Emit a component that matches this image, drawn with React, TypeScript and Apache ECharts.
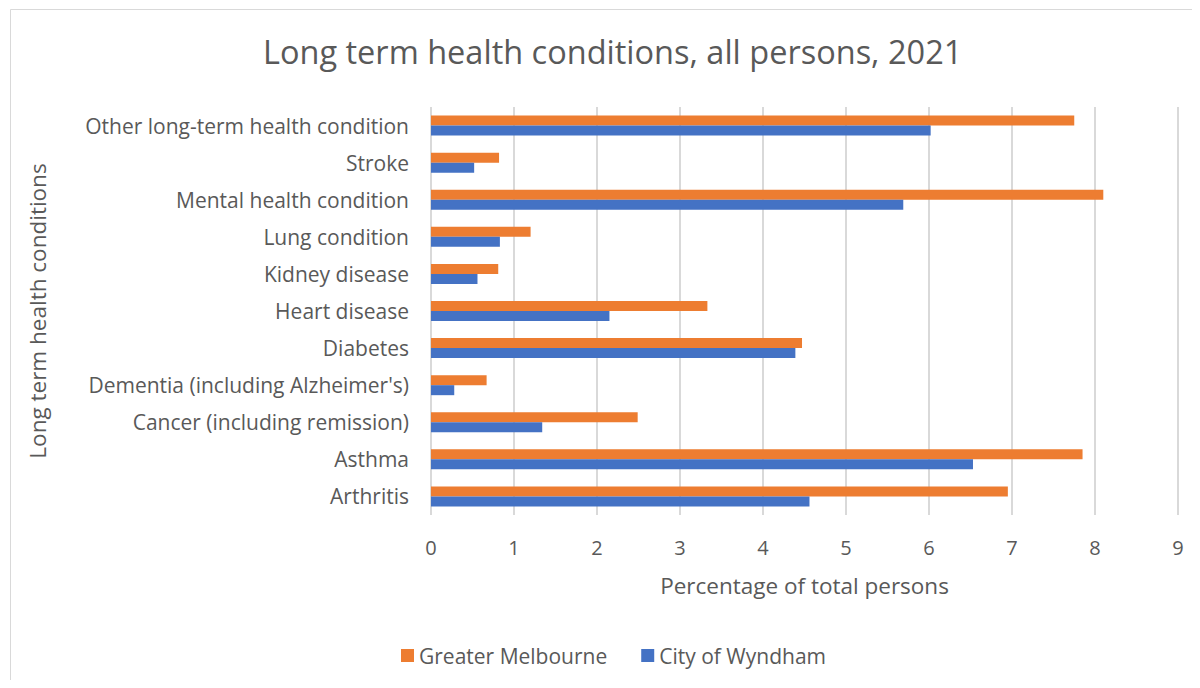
import React, { useEffect, useRef } from "react";
import * as echarts from "echarts";

const categories = [
  "Arthritis",
  "Asthma",
  "Cancer (including remission)",
  "Dementia (including Alzheimer's)",
  "Diabetes",
  "Heart disease",
  "Kidney disease",
  "Lung condition",
  "Mental health condition",
  "Stroke",
  "Other long-term health condition",
];
const greaterMelbourne = [6.95, 7.85, 2.49, 0.67, 4.47, 3.33, 0.81, 1.2, 8.1, 0.82, 7.75];
const cityOfWyndham = [4.56, 6.53, 1.34, 0.28, 4.39, 2.15, 0.56, 0.83, 5.69, 0.52, 6.02];
const xTicks = { min: 0, max: 9, interval: 1 };

const FONT = "Open Sans";
const TXT = "#595959";

export default function App() {
  const ref = useRef<HTMLDivElement>(null);
  useEffect(() => {
    if (!ref.current) return;
    const chart = echarts.init(ref.current, undefined, { renderer: "svg" });
    chart.setOption({
      animation: false,
      backgroundColor: "#ffffff",
      textStyle: { fontFamily: FONT, color: TXT },
      title: {
        text: "Long term health conditions, all persons, 2021",
        left: 263,
        top: 35,
        padding: 0,
        textStyle: { fontFamily: FONT, fontSize: 32.5, fontWeight: "normal", color: TXT },
      },
      graphic: [
        {
          type: "rect",
          shape: { x: 10.5, y: 9.5, width: 1200, height: 700 },
          style: { fill: "none", stroke: "#d9d9d9", lineWidth: 1 },
          silent: true,
        },
      ],
      legend: {
        data: ["Greater Melbourne", "City of Wyndham"],
        bottom: 17,
        left: 396,
        itemWidth: 13,
        itemHeight: 13,
        itemGap: 34,
        icon: "rect",
        textStyle: { fontFamily: FONT, fontSize: 21, color: TXT },
      },
      grid: { left: 431, right: 22, top: 107, bottom: 173, containLabel: false },
      xAxis: {
        type: "value",
        min: xTicks.min,
        max: xTicks.max,
        interval: xTicks.interval,
        name: "Percentage of total persons",
        nameLocation: "middle",
        nameGap: 59,
        nameTextStyle: { fontFamily: FONT, fontSize: 22.5, color: TXT },
        axisLine: { show: false },
        axisTick: { show: false },
        axisLabel: { fontFamily: FONT, fontSize: 20, color: TXT, margin: 22 },
        splitLine: { show: true, lineStyle: { color: "#d9d9d9", width: 2 } },
      },
      yAxis: {
        type: "category",
        data: categories,
        name: "Long term health conditions",
        nameLocation: "middle",
        nameGap: 382,
        nameRotate: 90,
        nameTextStyle: { fontFamily: FONT, fontSize: 22.5, color: TXT },
        axisLine: { show: false },
        axisTick: { show: false },
        axisLabel: { fontFamily: FONT, fontSize: 21, color: TXT, margin: 22 },
      },
      series: [
        {
          name: "Greater Melbourne",
          type: "bar",
          data: greaterMelbourne,
          barWidth: 10,
          barGap: "0%",
          itemStyle: { color: "#ED7D31" },
        },
        {
          name: "City of Wyndham",
          type: "bar",
          data: cityOfWyndham,
          barWidth: 10,
          barGap: "0%",
          itemStyle: { color: "#4472C4" },
        },
      ],
    });
    return () => chart.dispose();
  }, []);
  return <div ref={ref} style={{ width: 1200, height: 688, margin: -8 }} />;
}
